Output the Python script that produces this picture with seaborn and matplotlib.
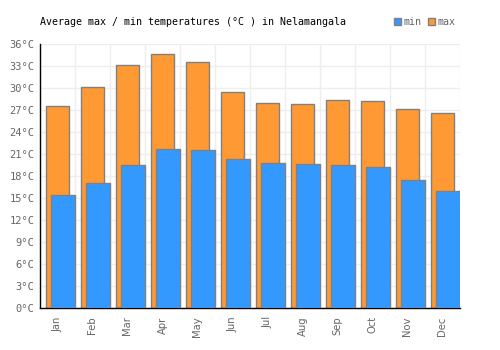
import matplotlib
matplotlib.use("Agg")
import matplotlib.pyplot as plt
import matplotlib.transforms as mtransforms
import seaborn as sns
import numpy as np
import pandas as pd
from matplotlib.patches import Patch

months = ["Jan", "Feb", "Mar", "Apr", "May", "Jun", "Jul", "Aug", "Sep", "Oct", "Nov", "Dec"]
max_temp = [27.6, 30.2, 33.1, 34.6, 33.6, 29.5, 28.0, 27.8, 28.3, 28.2, 27.2, 26.6]
min_temp = [15.4, 17.0, 19.5, 21.7, 21.5, 20.3, 19.8, 19.6, 19.5, 19.2, 17.4, 16.0]
yticks = list(range(0, 37, 3))

blue = "#3399ff"
orange = "#ff9933"
edge = "#808080"

sns.set_style("white")
plt.rcParams["font.family"] = ["DejaVu Sans Mono"]

df = pd.DataFrame({"month": months, "max": max_temp, "min": min_temp})

fig = plt.figure(figsize=(5, 3.5), dpi=100)
ax = fig.add_axes([40/500, 1-308/350, 420/500, 264/350])

sns.barplot(data=df, x="month", y="max", order=months, color=orange, width=0.657,
            edgecolor=edge, linewidth=1, saturation=1, ax=ax, zorder=2)
n_max = len(ax.patches)
sns.barplot(data=df, x="month", y="min", order=months, color=blue, width=0.686,
            edgecolor=edge, linewidth=1, saturation=1, ax=ax, zorder=3)
for p in ax.patches[n_max:]:
    p.set_x(p.get_x() + 0.157)

ax.set_xlim(-0.5, 11.5)
ax.set_ylim(0, 36)
ax.set_yticks(yticks)
ax.set_yticklabels([f"{t}°C" for t in yticks])
ax.set_xlabel("")
ax.set_ylabel("")

ax.set_xticks(np.arange(-0.5, 12, 1), minor=True)
ax.grid(False)
ax.grid(True, axis="y", which="major", color="#eeeeee", linewidth=1, zorder=0)
ax.grid(True, axis="x", which="minor", color="#eeeeee", linewidth=1, zorder=0)
ax.set_axisbelow(True)
ax.tick_params(axis="both", which="both", length=0)
ax.tick_params(axis="y", which="major", colors="#666666", labelsize=7.5, pad=4)
ax.tick_params(axis="x", which="both", labelbottom=False)

# month labels, rotated, placed at the categorical positions
offset = mtransforms.ScaledTranslation(0, -6/72, fig.dpi_scale_trans)
for pos, name in zip(range(len(months)), months):
    ax.text(pos, 0, name, transform=ax.get_xaxis_transform() + offset,
            rotation=90, ha="center", va="top", fontsize=7.2, color="#666666",
            family="DejaVu Sans")

for s in ["top", "right"]:
    ax.spines[s].set_visible(False)
ax.spines["left"].set_color("black")
ax.spines["bottom"].set_color("black")
ax.spines["left"].set_linewidth(1)
ax.spines["bottom"].set_linewidth(1)

fig.text(40/500, 1-22/350, "Average max / min temperatures (°C ) in Nelamangala",
         fontsize=7.2, color="black", va="center", ha="left")

handles = [Patch(facecolor=blue, edgecolor=edge, label="min"),
           Patch(facecolor=orange, edgecolor=edge, label="max")]
fig.legend(handles=handles, loc="center left", bbox_to_anchor=(389/500, 1-22/350),
           ncol=2, frameon=False, fontsize=7.2, handlelength=0.7, handleheight=0.7,
           handletextpad=0.25, columnspacing=0.6, labelcolor="#666666", borderpad=0)

fig.savefig("out.png", dpi=100)
